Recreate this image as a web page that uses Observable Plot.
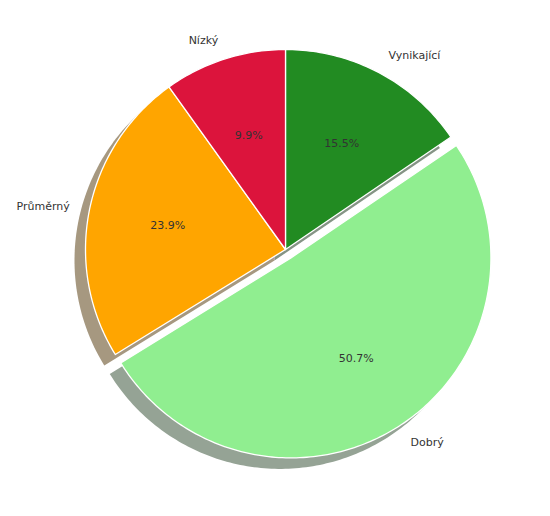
<!DOCTYPE html>
<html>
<head>
<meta charset="utf-8">
<script src="https://cdn.jsdelivr.net/npm/d3@7"></script>
<script src="https://cdn.jsdelivr.net/npm/@observablehq/plot@0.6"></script>
<style>
  html, body { margin: 0; padding: 0; background: #fff; }
  #chart svg { display: block; }
</style>
</head>
<body>
<div id="chart"></div>
<script>
// Data
const labels = ["Vynikající", "Dobrý", "Průměrný", "Nízký"];
const values = [15.5, 50.7, 23.9, 9.9];
const colors = ["#228B22", "#90EE90", "#FFA500", "#DC143C"];
const explode = [0, 0.05, 0, 0];

// Styling / geometry settings
const W = 550, H = 516;
const R = 1;                 // pie radius in data units
const pxPerUnit = 200;
const cxPx = 285, cyPx = 249;
const shadowDx = -11 / pxPerUnit, shadowDy = -11 / pxPerUnit;

function shadowColor(hex) {
  const c = d3.rgb(hex);
  const f = v => Math.round(127.5 + 0.15 * v);
  return d3.rgb(f(c.r), f(c.g), f(c.b)).formatHex();
}

const total = d3.sum(values);
let acc = 0;
const wedges = values.map((v, i) => {
  const a0 = acc / total * 2 * Math.PI;
  acc += v;
  const a1 = acc / total * 2 * Math.PI;
  const mid = (a0 + a1) / 2;
  const ox = explode[i] * R * Math.sin(mid);
  const oy = explode[i] * R * Math.cos(mid);
  return {label: labels[i], value: v, color: colors[i], a0, a1, mid, ox, oy};
});

function wedgePoints(w, key, fill, dx, dy) {
  const pts = [{key, fill, x: w.ox + dx, y: w.oy + dy}];
  const n = Math.max(4, Math.ceil((w.a1 - w.a0) / (Math.PI / 180)));
  for (let k = 0; k <= n; k++) {
    const a = w.a0 + (w.a1 - w.a0) * k / n;
    pts.push({key, fill, x: w.ox + dx + R * Math.sin(a), y: w.oy + dy + R * Math.cos(a)});
  }
  pts.push({key, fill, x: w.ox + dx, y: w.oy + dy});
  return pts;
}

const shadowPts = wedges.flatMap((w, i) => wedgePoints(w, "s" + i, shadowColor(w.color), shadowDx, shadowDy));
const wedgePts = wedges.flatMap((w, i) => wedgePoints(w, "w" + i, w.color, 0, 0));

const labelData = wedges.map(w => ({
  text: w.label,
  x: w.ox + 1.1 * R * Math.sin(w.mid),
  y: w.oy + 1.1 * R * Math.cos(w.mid)
}));
const pctData = wedges.map(w => ({
  text: (w.value / total * 100).toFixed(1) + "%",
  x: w.ox + 0.6 * R * Math.sin(w.mid),
  y: w.oy + 0.6 * R * Math.cos(w.mid)
}));

const font = "DejaVu Sans, sans-serif";

const plot = Plot.plot({
  width: W,
  height: H,
  margin: 0,
  x: {domain: [-cxPx / pxPerUnit, (W - cxPx) / pxPerUnit], axis: null},
  y: {domain: [-(H - cyPx) / pxPerUnit, cyPx / pxPerUnit], axis: null},
  color: {type: "identity"},
  style: {fontFamily: font, background: "white"},
  marks: [
    Plot.line(shadowPts, {x: "x", y: "y", z: "key", fill: "fill", stroke: "none", curve: "linear"}),
    Plot.line(wedgePts, {x: "x", y: "y", z: "key", fill: "fill", stroke: "white", strokeWidth: 1.3, strokeLinejoin: "round", curve: "linear"}),
    Plot.text(labelData.filter(d => d.x >= 0), {x: "x", y: "y", text: "text", textAnchor: "start", fontSize: 11, fill: "#333"}),
    Plot.text(labelData.filter(d => d.x < 0), {x: "x", y: "y", text: "text", textAnchor: "end", fontSize: 11, fill: "#333"}),
    Plot.text(pctData, {x: "x", y: "y", text: "text", textAnchor: "middle", fontSize: 11, fill: "#333"})
  ]
});

document.getElementById("chart").appendChild(plot);
</script>
</body>
</html>
